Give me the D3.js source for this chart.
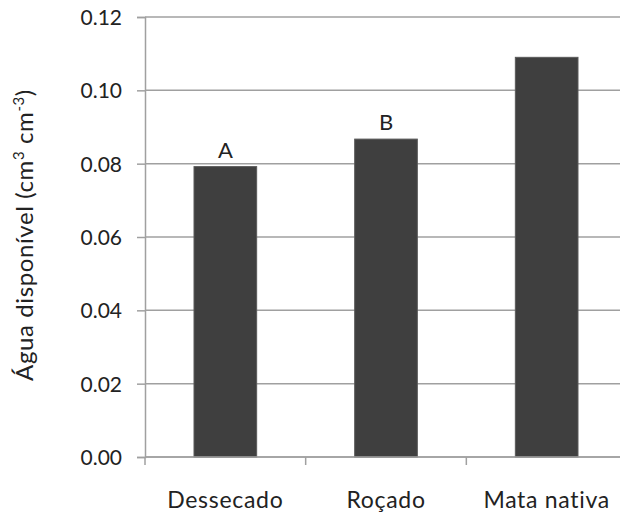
<!DOCTYPE html>
<html><head><meta charset="utf-8">
<script src="https://cdn.jsdelivr.net/npm/d3@7"></script>
<style>
html,body{margin:0;padding:0;background:#fff;}
svg{display:block;}
text{font-family:Lato,"Open Sans",sans-serif;fill:#222;}
</style></head>
<body>
<svg id="chart" width="620" height="516"></svg>
<script>
const categories = ["Dessecado", "Roçado", "Mata nativa"];
const values = [0.0792, 0.0867, 0.1090];
const letters = ["A", "B", ""];
const yTicks = [0, 0.02, 0.04, 0.06, 0.08, 0.10, 0.12];

const svg = d3.select("#chart");
const mLeft = 145, mRight = 627, mTop = 17, mBottom = 457;
const axisColor = "#a0a0a0";

const x = d3.scaleBand().domain(categories).range([mLeft, mRight]).paddingInner(0.61).paddingOuter(0.305);
const xb = d3.scaleBand().domain(categories).range([mLeft, mRight]);
const y = d3.scaleLinear().domain([0, 0.12]).range([mBottom, mTop]);

// gridlines
svg.append("g").selectAll("line").data(yTicks).join("line")
  .attr("x1", mLeft).attr("x2", 620)
  .attr("y1", d => y(d)).attr("y2", d => y(d))
  .attr("stroke", axisColor).attr("stroke-width", 1.5);

// y axis
const ya = svg.append("g").attr("transform", `translate(${mLeft},0)`)
  .call(d3.axisLeft(y).tickValues(yTicks).tickFormat(d3.format(".2f")).tickSize(8).tickPadding(15));
ya.select(".domain").attr("stroke", axisColor).attr("stroke-width", 1.5);
ya.selectAll(".tick line").attr("stroke", axisColor).attr("stroke-width", 1.5);
ya.selectAll(".tick text").attr("font-size", 21).attr("font-family", "Lato").attr("fill", "#222").attr("dy", "0.36em");

// bars
svg.append("g").selectAll("rect").data(values).join("rect")
  .attr("x", (d, i) => x(categories[i]))
  .attr("width", x.bandwidth())
  .attr("y", d => y(d))
  .attr("height", d => mBottom - y(d))
  .attr("fill", "#3f3f3f")
  .attr("stroke", "#5a5a5a").attr("stroke-width", 1);

// x axis
const xa = svg.append("g").attr("transform", `translate(0,${mBottom})`);
xa.append("line").attr("x1", mLeft).attr("x2", 620).attr("y1", 0).attr("y2", 0)
  .attr("stroke", axisColor).attr("stroke-width", 1.5);
xa.selectAll("line.tk").data(categories).join("line").attr("class", "tk")
  .attr("x1", d => xb(d)).attr("x2", d => xb(d)).attr("y1", 0).attr("y2", 8)
  .attr("stroke", axisColor).attr("stroke-width", 1.5);
xa.selectAll("text.lbl").data(categories).join("text").attr("class", "lbl")
  .attr("x", d => xb(d) + xb.bandwidth() / 2).attr("y", 51)
  .attr("text-anchor", "middle").attr("font-size", 23).attr("letter-spacing", 0.7)
  .text(d => d);

// letters
svg.append("g").selectAll("text").data(values).join("text")
  .attr("x", (d, i) => x(categories[i]) + x.bandwidth() / 2)
  .attr("y", d => y(d) - 9)
  .attr("text-anchor", "middle").attr("font-size", 22)
  .text((d, i) => letters[i]);

// y title
const t = svg.append("text")
  .attr("transform", `translate(33,${(mTop + mBottom) / 2 - 2}) rotate(-90)`)
  .attr("text-anchor", "middle").attr("font-size", 24).attr("letter-spacing", 0.6);
t.append("tspan").text("Água disponível (cm");
t.append("tspan").attr("font-size", 15).attr("dy", -9).text("3");
t.append("tspan").attr("dy", 9).text(" cm");
t.append("tspan").attr("font-size", 15).attr("dy", -9).text("-3");
t.append("tspan").attr("dy", 9).text(")");
</script>
</body></html>
